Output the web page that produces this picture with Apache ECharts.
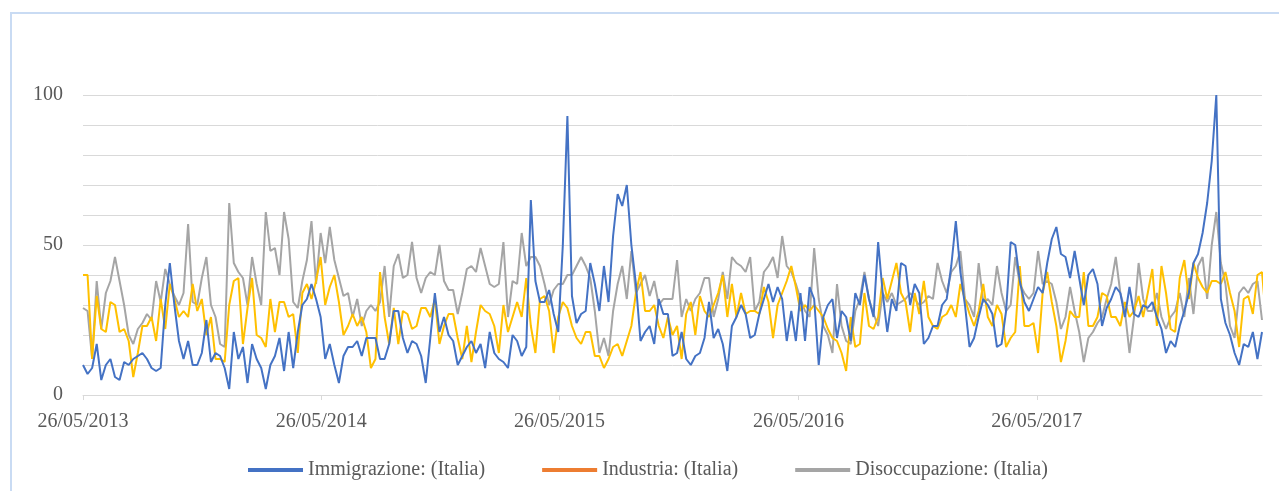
<!DOCTYPE html>
<html>
<head>
<meta charset="utf-8">
<script src="https://cdn.jsdelivr.net/npm/echarts@6/dist/echarts.min.js"></script>
<style>
  html, body { margin: 0; padding: 0; background: #fff; overflow: hidden; }
  body { width: 1279px; height: 491px; position: relative; }
  #frame { position: absolute; left: 10px; top: 12px; width: 1300px; height: 520px; border: 2px solid #c9dbf3; }
  #chart { position: absolute; left: 0; top: 0; width: 1279px; height: 491px; }
</style>
</head>
<body>
<div id="frame"></div>
<div id="chart"></div>
<script>
// dati settimanali a partire dal 26/05/2013
var startDate = '26/05/2013';
var stepDays = 7;
var tickLabels = ['26/05/2013', '26/05/2014', '26/05/2015', '26/05/2016', '26/05/2017'];
var seriesNames = ['Immigrazione: (Italia)', 'Industria: (Italia)', 'Disoccupazione: (Italia)'];

var immigrazione = [
  10, 7, 9, 17, 5, 10, 12, 6, 5, 11, 10, 12, 13, 14, 12, 9, 8, 9, 30, 44, 30, 18, 12, 18, 10, 10, 14, 25, 11, 14, 13, 9,
  2, 21, 12, 16, 4, 17, 12, 9, 2, 10, 13, 19, 8, 21, 9, 21, 30, 32, 37, 32, 26, 12, 17, 10, 4, 13, 16, 16, 18, 13, 19, 19,
  19, 12, 12, 17, 28, 28, 19, 14, 18, 17, 13, 4, 19, 34, 21, 26, 20, 18, 10, 13, 16, 18, 14, 17, 9, 21, 14, 12, 11, 9, 20, 18,
  13, 16, 65, 38, 31, 31, 35, 27, 21, 50, 93, 33, 24, 27, 28, 44, 37, 28, 43, 31, 53, 67, 63, 70, 50, 37, 18, 21, 23, 17, 32, 27,
  27, 13, 14, 21, 12, 10, 13, 14, 19, 31, 19, 22, 17, 8, 23, 26, 30, 27, 19, 20, 27, 32, 37, 31, 36, 32, 18, 28, 18, 34, 18, 36,
  32, 10, 26, 30, 32, 19, 28, 26, 18, 34, 30, 40, 32, 26, 51, 34, 21, 32, 28, 44, 43, 30, 37, 34, 17, 19, 23, 23, 30, 32, 43, 58,
  41, 30, 16, 19, 26, 32, 30, 27, 16, 17, 28, 51, 50, 38, 31, 28, 32, 36, 34, 44, 52, 56, 47, 46, 39, 48, 39, 30, 40, 42, 37, 23,
  29, 32, 36, 34, 26, 36, 27, 26, 30, 29, 31, 26, 22, 14, 18, 16, 23, 28, 34, 44, 47, 54, 64, 78, 100, 32, 24, 20, 14, 10, 17, 16, 21, 12, 21
];

var industria = [
  40, 40, 12, 33, 22, 21, 31, 30, 21, 22, 18, 6, 14, 23, 23, 26, 18, 32, 22, 37, 32, 26, 28, 26, 37, 28, 32, 20, 26, 12, 12, 11,
  30, 38, 39, 17, 29, 39, 20, 19, 16, 32, 21, 31, 31, 26, 27, 14, 34, 37, 32, 38, 46, 30, 36, 40, 31, 20, 23, 27, 23, 26, 21, 9,
  12, 41, 26, 17, 29, 17, 28, 27, 22, 23, 29, 29, 26, 32, 17, 23, 27, 27, 19, 12, 23, 11, 21, 30, 28, 27, 23, 14, 30, 21, 26, 31,
  26, 39, 23, 14, 32, 33, 28, 14, 26, 31, 29, 23, 19, 17, 21, 21, 13, 13, 9, 12, 16, 17, 13, 18, 23, 34, 41, 28, 28, 30, 23, 19,
  26, 20, 23, 12, 27, 31, 20, 33, 28, 26, 30, 34, 40, 26, 37, 26, 34, 27, 28, 28, 27, 36, 31, 19, 30, 34, 38, 43, 36, 28, 30, 28,
  30, 28, 26, 22, 19, 18, 14, 8, 26, 16, 17, 34, 23, 22, 26, 39, 32, 38, 44, 34, 31, 21, 34, 27, 38, 26, 23, 22, 26, 27, 30, 26,
  37, 32, 27, 23, 28, 37, 26, 23, 30, 27, 16, 19, 21, 43, 23, 23, 24, 14, 34, 41, 31, 23, 11, 18, 28, 26, 26, 41, 23, 23, 26, 34,
  33, 26, 26, 23, 31, 26, 28, 33, 26, 34, 42, 23, 43, 34, 22, 21, 39, 45, 32, 44, 39, 36, 34, 38, 38, 37, 41, 34, 28, 16, 32, 33, 27, 40, 41, 23
];

var disoccupazione = [
  29, 28, 12, 38, 22, 34, 38, 46, 38, 30, 20, 17, 22, 24, 27, 25, 38, 31, 42, 37, 33, 30, 34, 57, 31, 30, 39, 46, 30, 26, 17, 16,
  64, 44, 41, 39, 30, 46, 37, 30, 61, 48, 49, 40, 61, 52, 31, 29, 38, 45, 58, 37, 54, 44, 56, 45, 39, 33, 34, 26, 32, 23, 28, 30,
  28, 31, 43, 26, 43, 47, 39, 40, 51, 39, 34, 39, 41, 40, 50, 38, 35, 35, 27, 34, 42, 43, 41, 49, 43, 37, 36, 37, 51, 26, 38, 37,
  54, 43, 46, 46, 43, 37, 30, 35, 37, 37, 40, 40, 43, 46, 43, 39, 28, 14, 19, 13, 28, 37, 43, 32, 48, 34, 37, 40, 33, 38, 30, 32,
  32, 32, 45, 26, 32, 28, 32, 34, 39, 39, 26, 32, 41, 32, 46, 44, 43, 41, 46, 28, 31, 41, 43, 46, 39, 53, 43, 41, 37, 32, 28, 26,
  49, 32, 23, 20, 14, 37, 23, 18, 17, 28, 32, 41, 32, 27, 23, 34, 31, 34, 30, 31, 32, 34, 32, 30, 31, 33, 32, 44, 38, 34, 41, 43,
  48, 32, 30, 26, 44, 31, 32, 30, 43, 34, 28, 30, 46, 37, 34, 32, 34, 48, 37, 38, 37, 31, 22, 26, 36, 28, 21, 11, 19, 21, 24, 26,
  32, 37, 46, 34, 28, 14, 26, 44, 32, 28, 28, 34, 26, 22, 26, 28, 34, 26, 39, 27, 43, 46, 32, 50, 61, 44, 37, 23, 19, 34, 36, 34, 37, 38, 25
];

var font = 'Liberation Serif';
var textColor = '#595959';
var gridColor = '#d9d9d9';

function toDay(s) {
  var p = s.split('/');
  return Date.UTC(+p[2], +p[1] - 1, +p[0]) / 86400000;
}
var day0 = toDay(startDate);
var tickDays = tickLabels.map(function (s) { return toDay(s) - day0; });

function points(values) {
  return values.map(function (v, i) { return [i * stepDays, v]; });
}

var chart = echarts.init(document.getElementById('chart'));

var option = {
  animation: false,
  grid: { left: 83, right: 17, top: 95, bottom: 96 },
  legend: {
    left: 243,
    top: 455,
    itemGap: 57,
    itemWidth: 55,
    itemHeight: 4,
    icon: 'rect',
    itemStyle: { borderWidth: 0 },
    textStyle: { fontFamily: font, fontSize: 20, color: textColor },
    data: [
      { name: seriesNames[0], itemStyle: { color: '#4472c4' } },
      { name: seriesNames[1], itemStyle: { color: '#ed7d31' } },
      { name: seriesNames[2], itemStyle: { color: '#a5a5a5' } }
    ]
  },
  xAxis: {
    type: 'value',
    min: 0,
    max: (immigrazione.length - 1) * stepDays,
    splitLine: { show: false },
    axisLine: { lineStyle: { color: gridColor, width: 1 } },
    axisTick: { show: true, customValues: tickDays, length: 5, lineStyle: { color: gridColor } },
    axisLabel: {
      customValues: tickDays,
      margin: 17,
      fontFamily: font,
      fontSize: 20,
      color: textColor,
      formatter: function (v) {
        var k = tickDays.indexOf(v);
        return k < 0 ? '' : tickLabels[k];
      }
    }
  },
  yAxis: {
    type: 'value',
    min: 0,
    max: 100,
    interval: 10,
    axisLine: { show: false },
    axisTick: { show: false },
    axisLabel: {
      margin: 20,
      fontFamily: font,
      fontSize: 20,
      color: textColor,
      formatter: function (v) { return v % 50 === 0 ? String(v) : ''; }
    },
    splitLine: { lineStyle: { color: gridColor, width: 1 } }
  },
  series: [
    {
      name: seriesNames[0], type: 'line', z: 4, showSymbol: false, symbol: 'none',
      itemStyle: { color: '#4472c4' }, lineStyle: { color: '#4472c4', width: 2 },
      data: points(immigrazione)
    },
    {
      name: seriesNames[1], type: 'line', z: 3, showSymbol: false, symbol: 'none',
      itemStyle: { color: '#ed7d31' }, lineStyle: { color: '#ffc000', width: 2 },
      data: points(industria)
    },
    {
      name: seriesNames[2], type: 'line', z: 2, showSymbol: false, symbol: 'none',
      itemStyle: { color: '#a5a5a5' }, lineStyle: { color: '#a5a5a5', width: 2 },
      data: points(disoccupazione)
    }
  ]
};
chart.setOption(option);
</script>
</body>
</html>
